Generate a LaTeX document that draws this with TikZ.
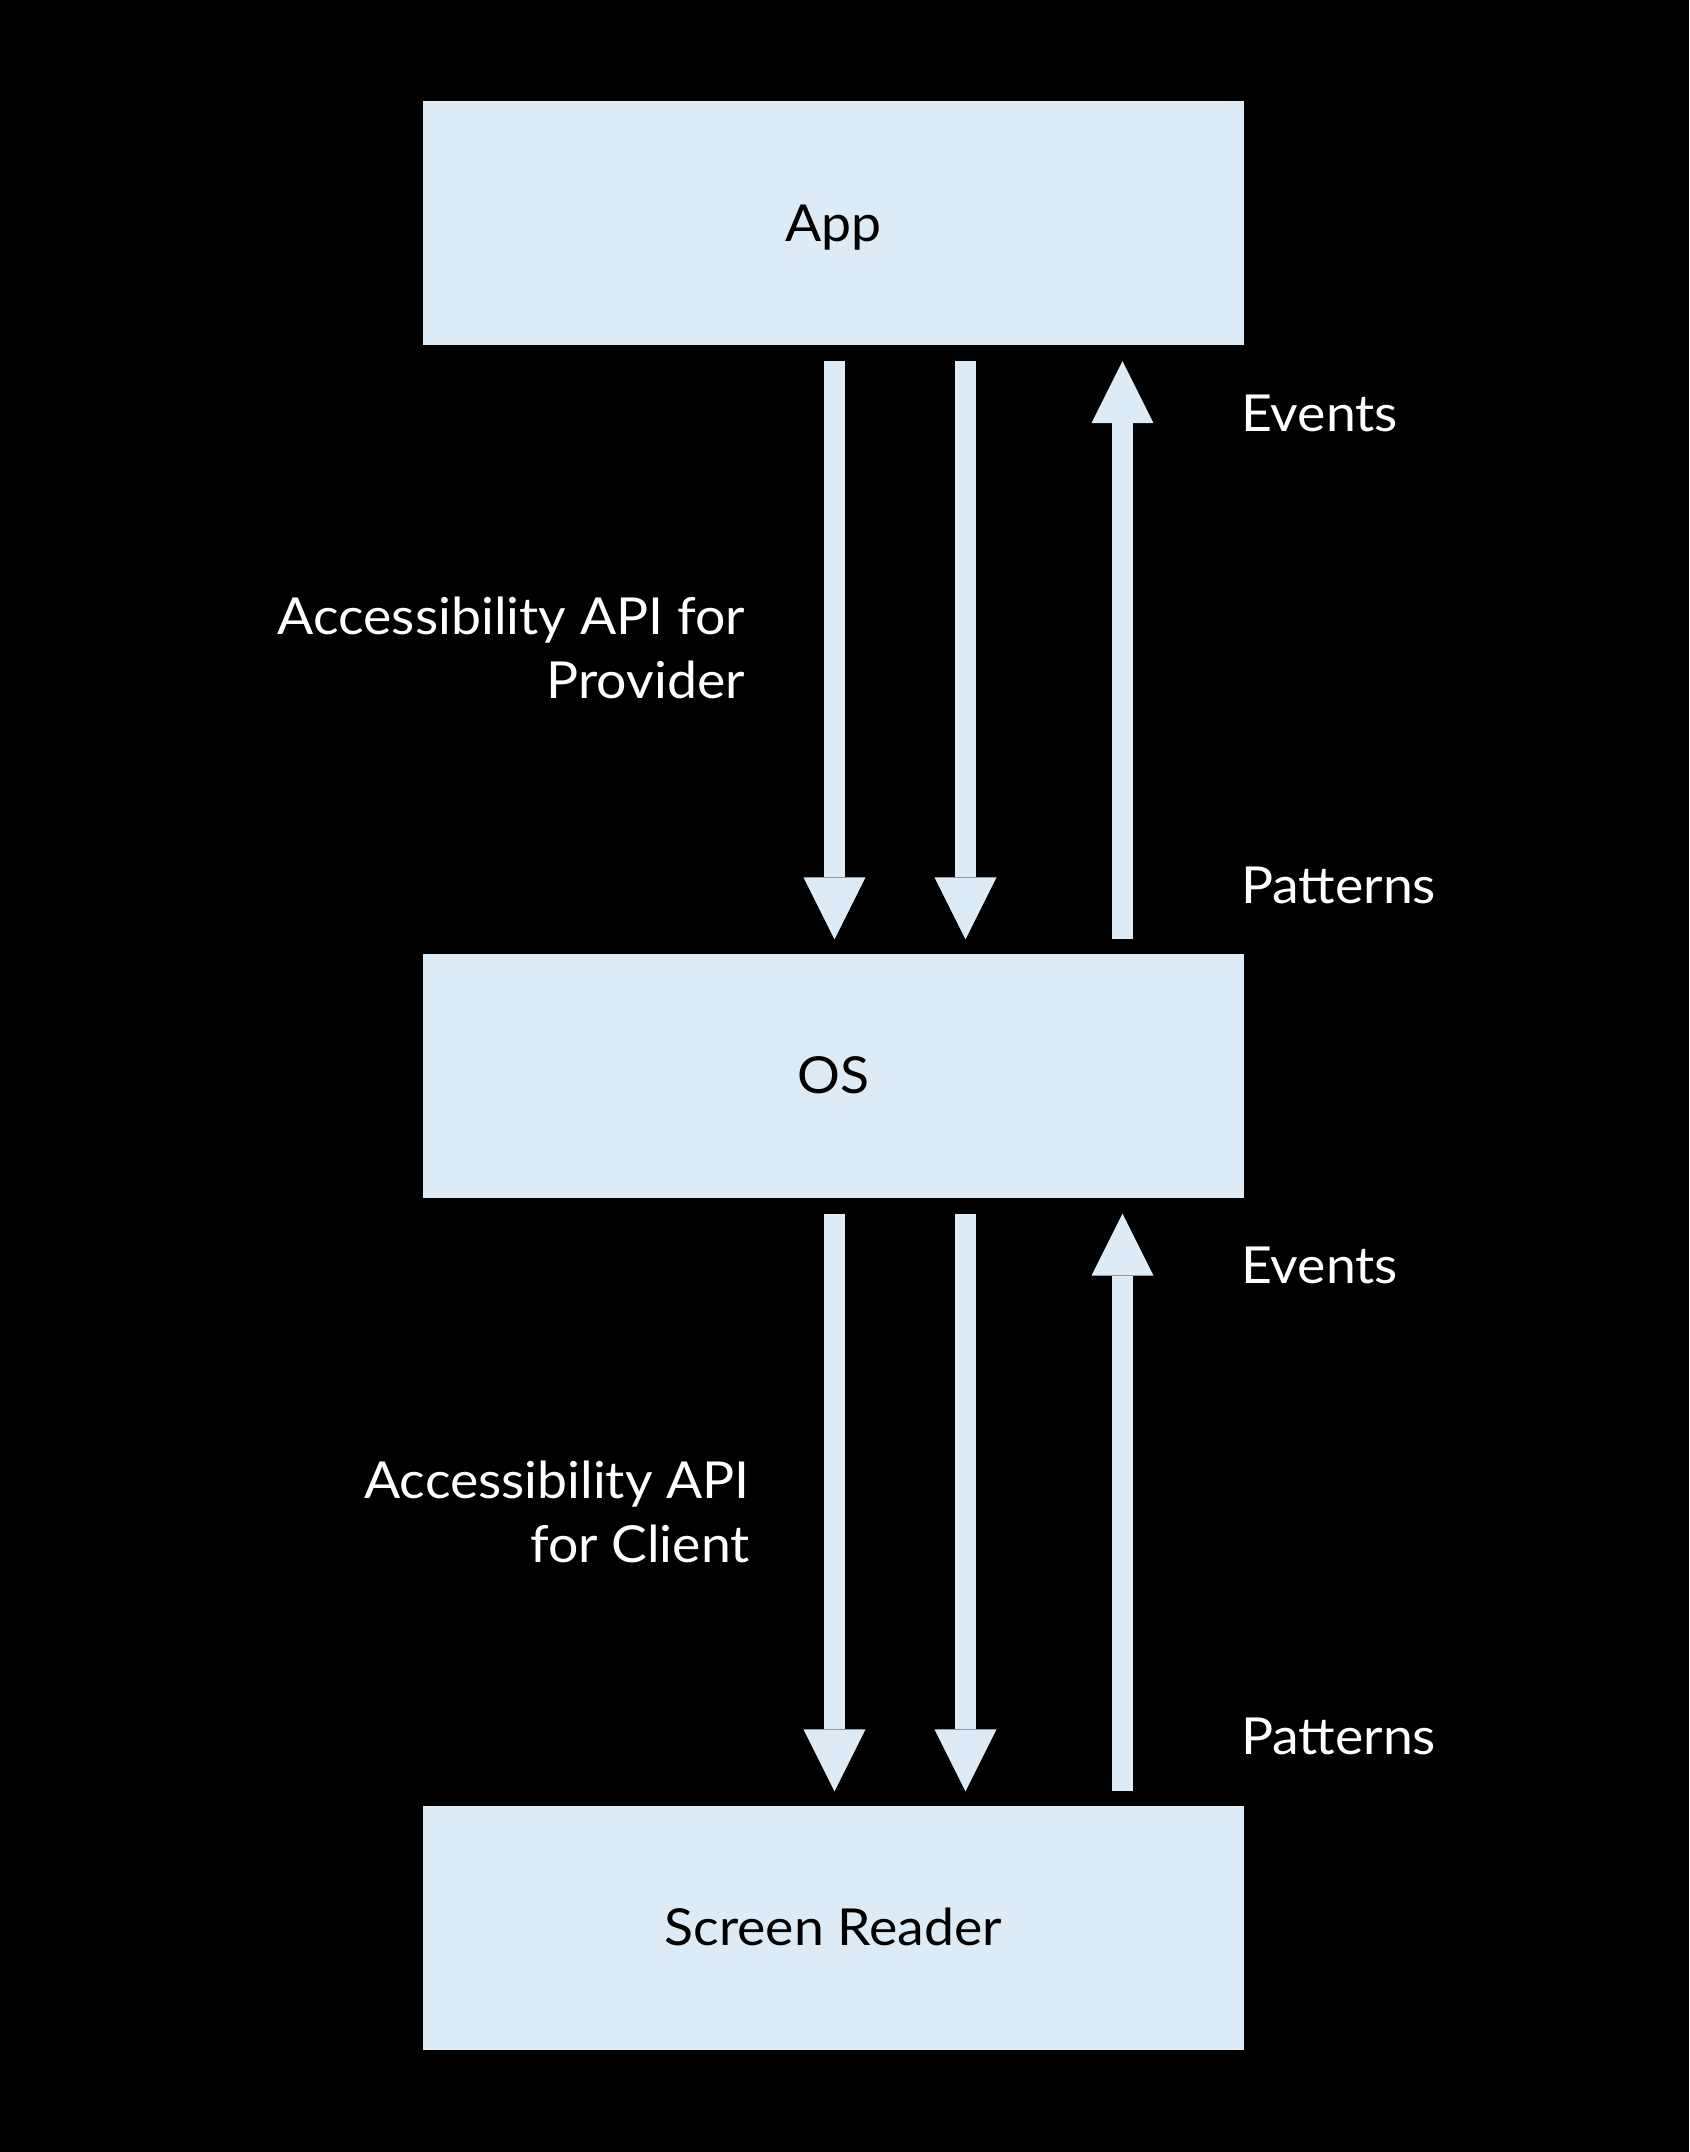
\documentclass[tikz,border=0pt]{standalone}
\usepackage{fontspec}
\setmainfont{Lato}[FakeStretch=1.05]
\usetikzlibrary{arrows.meta,calc}
\definecolor{boxblue}{HTML}{DDEBF7}
\tikzset{
  box/.style={fill=boxblue, draw=none, rectangle, minimum width=821pt, minimum height=244pt,
    inner sep=0pt, text=black, font=\fontsize{51}{64}\selectfont, text height=36pt, text depth=0pt},
  lbl/.style={text=white, font=\fontsize{51}{64}\selectfont, inner sep=0pt},
  bigarrow/.style={draw=boxblue, line width=21pt, line cap=butt,
    -{Triangle[width=62pt,length=62pt,line width=0pt]}},
}
\begin{document}
\begin{tikzpicture}[x=1pt,y=-1pt]
\fill[black] (0,0) rectangle (1689,2152);
\useasboundingbox (0,0) rectangle (1689,2152);

\node[box] (App) at (833.5,223) {App};
\node[box] (OS) at (833.5,1075.5) {OS};
\node[box] (SR) at (833.5,1927.5) {Screen Reader};

% top arrows
\draw[bigarrow] ($(App.south)+(1,16)$) -- ($(OS.north)+(1,-14)$);
\draw[bigarrow] ($(App.south)+(132,16)$) -- ($(OS.north)+(132,-14)$);
\draw[bigarrow] ($(OS.north)+(289,-14)$) -- ($(App.south)+(289,16)$);
% bottom arrows
\draw[bigarrow] ($(OS.south)+(1,16)$) -- ($(SR.north)+(1,-14)$);
\draw[bigarrow] ($(OS.south)+(132,16)$) -- ($(SR.north)+(132,-14)$);
\draw[bigarrow] ($(SR.north)+(289,-14)$) -- ($(OS.south)+(289,16)$);

\node[lbl, anchor=base west] (ev1) at (1241,431) {Events};
\node[lbl, anchor=base west] (pa1) at (1241,903) {Patterns};
\node[lbl, anchor=base west] (ev2) at (1241,1283) {Events};
\node[lbl, anchor=base west] (pa2) at (1241,1754) {Patterns};

\node[lbl, anchor=base east, align=right] (prov) at (745,698) {Accessibility API for\\Provider};
\node[lbl, anchor=base east, align=right] (cli) at (750,1562) {Accessibility API\\for Client};
\end{tikzpicture}
\end{document}
